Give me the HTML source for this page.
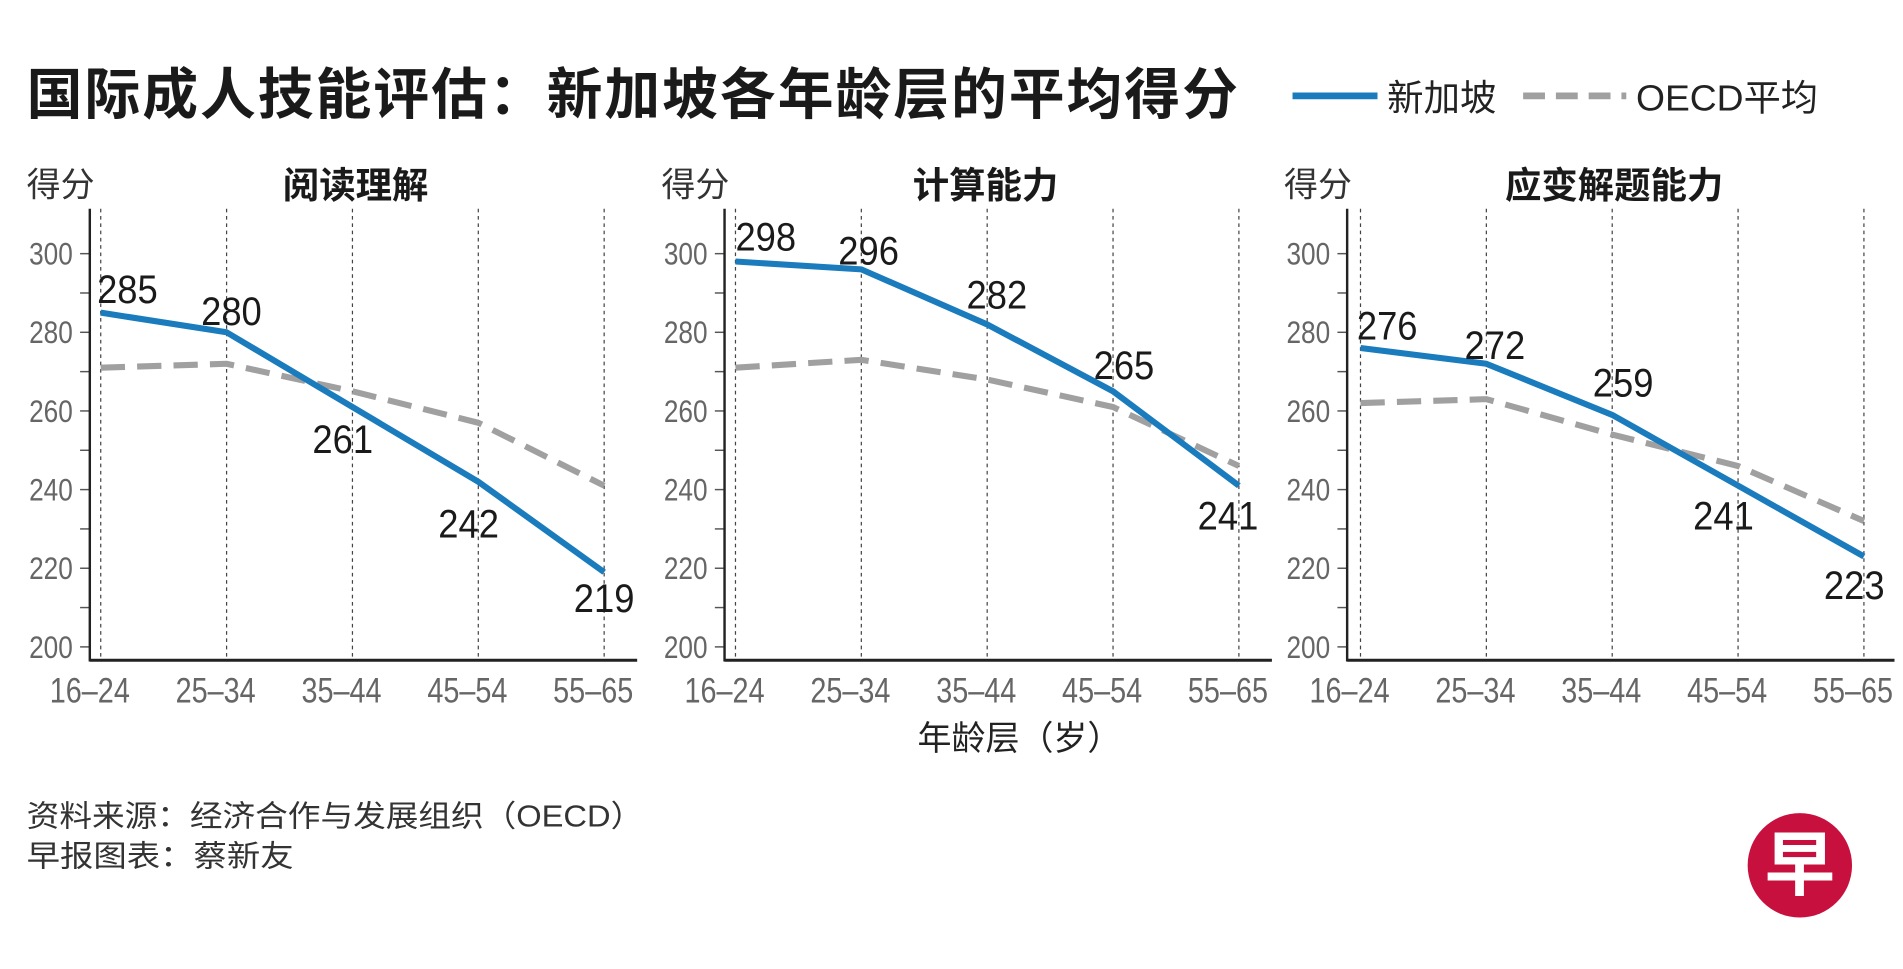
<!DOCTYPE html>
<html><head><meta charset="utf-8"><style>
html,body{margin:0;padding:0;background:#fff;}
svg{display:block;}
.cj{font-family:"Liberation Sans","Noto Sans CJK SC",sans-serif;}
.nm{font-family:"Liberation Sans Narrow","Liberation Sans",sans-serif;}
</style></head><body>
<svg id="chart" width="1903" height="969" viewBox="0 0 1568 798.4" preserveAspectRatio="none" xmlns="http://www.w3.org/2000/svg">
<text class="cj" x="22" y="94" font-size="46" font-weight="bold" fill="#1a1a1a" textLength="998">国际成人技能评估：新加坡各年龄层的平均得分</text>
<g>
<line x1="1065" y1="79" x2="1135" y2="79" stroke="#1a7bbd" stroke-width="5.5"/>
<text class="cj" x="1143" y="91" font-size="30" fill="#222">新加坡</text>
<line x1="1255" y1="79" x2="1340" y2="79" stroke="#a0a0a0" stroke-width="5.5" stroke-dasharray="18,9"/>
<text class="cj" x="1348" y="91" font-size="30" fill="#222" textLength="150" lengthAdjust="spacingAndGlyphs">OECD平均</text>
</g>
<g id="panels"></g>
<text class="cj" x="840" y="618" font-size="28" fill="#222" text-anchor="middle">年龄层（岁）</text>
<text class="cj" x="22" y="681" font-size="25" fill="#333" textLength="508" lengthAdjust="spacingAndGlyphs">资料来源：经济合作与发展组织（OECD）</text>
<text class="cj" x="22" y="714" font-size="25" fill="#333" textLength="220" lengthAdjust="spacingAndGlyphs">早报图表：蔡新友</text>
<g>
<circle cx="1483" cy="713" r="43" fill="#c8103e"/>
<text class="cj" x="1483" y="733" font-size="58" font-weight="bold" fill="#fff" text-anchor="middle">早</text>
</g>
</svg>
<script>
const categories = ["16-24","25-34","35-44","45-54","55-65"];
const yTicks = [200,220,240,260,280,300];
const panelTitles = ["阅读理解","计算能力","应变解题能力"];
const sgReading = [285,280,261,242,219];
const oecdReading = [271,272,265,257,241];
const sgNumeracy = [298,296,282,265,241];
const oecdNumeracy = [271,273,268,261,246];
const sgProblem = [276,272,259,241,223];
const oecdProblem = [262,263,254,246,232];

const NS = "http://www.w3.org/2000/svg";
const root = document.getElementById('panels');
function mk(tag, attrs, parent){const e=document.createElementNS(NS,tag);for(const k in attrs)e.setAttribute(k,attrs[k]);(parent||root).appendChild(e);return e;}
const yScale = v => 533 - (v-200)*3.24;
const panels = [
 {ax:74, x0:83, sg:sgReading, oe:oecdReading, tc:293,
  off:[[22,-20],[4,-18],[-8,26],[-8,34],[0,21]]},
 {ax:597, x0:606, sg:sgNumeracy, oe:oecdNumeracy, tc:812,
  off:[[25,-21],[6,-16],[8,-25],[9,-22],[-9,24]]},
 {ax:1110, x0:1121, sg:sgProblem, oe:oecdProblem, tc:1330,
  off:[[22,-19],[7,-16],[9,-27],[-12,24],[-8,23]]}
];
const step = 103.7;
panels.forEach((p,pi)=>{
  const g = mk('g',{});
  
  
  const xs = i => p.x0 + i*step;
  const yl = mk('text',{x:p.ax-52,y:162,'font-size':28,fill:'#333',class:'cj'},g);
  yl.textContent='得分';
  
  
  const t = mk('text',{x:p.tc,y:163,'font-size':30,'font-weight':'bold',fill:'#1a1a1a','text-anchor':'middle',class:'cj'},g);
  t.textContent=panelTitles[pi];
  
  
  categories.forEach((c,i)=>{
    const gl = mk('line',{x1:xs(i),x2:xs(i),y1:172,y2:544,stroke:'#444','stroke-width':1,'stroke-dasharray':'3,3'},g);
    
    
    const xl = mk('text',{x:xs(i)-9,y:579,'font-size':29,fill:'#666','text-anchor':'middle',class:'nm',textLength:66,lengthAdjust:'spacingAndGlyphs'},g);
    xl.textContent=c.replace('-','–');
    
    
  });
  for(let v=200; v<=300; v+=10){
    const tk = mk('line',{x1:p.ax-8,x2:p.ax,y1:yScale(v),y2:yScale(v),stroke:'#555','stroke-width':1.2},g);
    
    
  }
  yTicks.forEach(v=>{
    const tl = mk('text',{x:p.ax-14,y:yScale(v)+9,'font-size':26,fill:'#666','text-anchor':'end',class:'nm',textLength:36,lengthAdjust:'spacingAndGlyphs'},g);
    tl.textContent=v;
    
    
  });
  const ya = mk('line',{x1:p.ax,x2:p.ax,y1:172,y2:545,stroke:'#222','stroke-width':2},g);
  
  
  const xa = mk('line',{x1:p.ax,x2:p.ax+451,y1:544,y2:544,stroke:'#222','stroke-width':2.5},g);
  
  
  const oe = mk('polyline',{points:p.oe.map((v,i)=>xs(i)+','+yScale(v)).join(' '),fill:'none',stroke:'#a0a0a0','stroke-width':5,'stroke-dasharray':'20,10'},g);
  
  
  const sg = mk('polyline',{points:p.sg.map((v,i)=>xs(i)+','+yScale(v)).join(' '),fill:'none',stroke:'#1a7bbd','stroke-width':5,'stroke-linejoin':'round'},g);
  
  
  p.sg.forEach((v,i)=>{
    const lb = mk('text',{x:xs(i)+p.off[i][0],y:yScale(v)+p.off[i][1]+12,'font-size':33,fill:'#1a1a1a','text-anchor':'middle',class:'nm',textLength:50,lengthAdjust:'spacingAndGlyphs'},g);
    lb.textContent=v;
    
    
  });
});
</script>
</body></html>
